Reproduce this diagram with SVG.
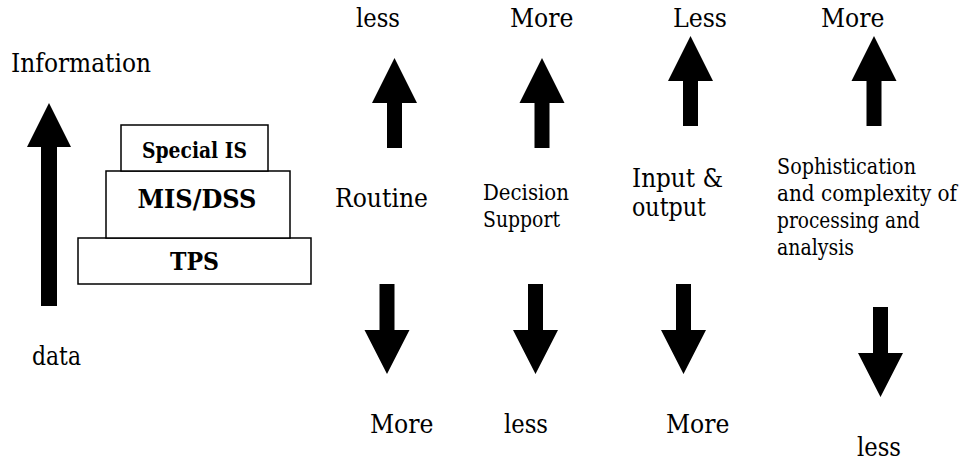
<svg xmlns="http://www.w3.org/2000/svg" xmlns:xlink="http://www.w3.org/1999/xlink" width="966" height="463" viewBox="0 0 966 463">
<style>
text{font-family:'DejaVu Serif Condensed','DejaVu Serif',serif;fill:#000}
.t{font-size:26.6px}
.s{font-size:21.8px}
.b{font-weight:bold;text-anchor:middle}
.box{fill:#fff;stroke:#000;stroke-width:1.5}
.arr{fill:#000}
</style>
<defs>
<path id="up" d="M0,0 L22.5,45 L7.5,45 L7.5,90 L-7.5,90 L-7.5,45 L-22.5,45 Z"/>
<path id="down" d="M-7.5,0 L7.5,0 L7.5,46 L22.5,46 L0,90 L-22.5,46 L-7.5,46 Z"/>
</defs>
<rect width="966" height="463" fill="#fff"/>
<g id="connectors" class="arr">
<path d="M49,103 L71,147 L57,147 L57,306 L41,306 L41,147 L27,147 Z"/>
<use xlink:href="#up" x="394.5" y="58"/>
<use xlink:href="#up" x="542" y="58"/>
<use xlink:href="#up" x="690.5" y="36"/>
<use xlink:href="#up" x="874" y="36"/>
<use xlink:href="#down" x="387" y="284"/>
<use xlink:href="#down" x="535.5" y="284"/>
<use xlink:href="#down" x="683.5" y="284"/>
<use xlink:href="#down" x="880.5" y="307"/>
</g>
<g id="tps">
<rect class="box" x="78" y="238" width="233" height="46"/>
<text class="b" x="194.5" y="270" font-size="24.2" textLength="49" lengthAdjust="spacingAndGlyphs">TPS</text>
</g>
<g id="mis-dss">
<rect class="box" x="106" y="171" width="184" height="67"/>
<text class="b" x="197" y="208" font-size="26.6" textLength="119" lengthAdjust="spacingAndGlyphs">MIS/DSS</text>
</g>
<g id="special-is">
<rect class="box" x="121" y="125" width="147" height="46"/>
<text class="b" x="194.5" y="158" font-size="21.8" textLength="105" lengthAdjust="spacingAndGlyphs">Special IS</text>
</g>
<g id="labels">
<text class="t" x="11" y="72" textLength="140" lengthAdjust="spacingAndGlyphs">Information</text>
<text class="t" x="32" y="365" textLength="49" lengthAdjust="spacingAndGlyphs">data</text>
<text class="t" x="356" y="27" textLength="44" lengthAdjust="spacingAndGlyphs">less</text>
<text class="t" x="510" y="27" textLength="63.5" lengthAdjust="spacingAndGlyphs">More</text>
<text class="t" x="673" y="27" textLength="54" lengthAdjust="spacingAndGlyphs">Less</text>
<text class="t" x="821" y="27" textLength="63.5" lengthAdjust="spacingAndGlyphs">More</text>
<text class="t" x="335" y="207" textLength="93" lengthAdjust="spacingAndGlyphs">Routine</text>
<text class="s" x="483" y="200" textLength="86" lengthAdjust="spacingAndGlyphs">Decision</text>
<text class="s" x="483" y="227" textLength="77" lengthAdjust="spacingAndGlyphs">Support</text>
<text class="t" x="632" y="187" textLength="91" lengthAdjust="spacingAndGlyphs">Input &amp;</text>
<text class="t" x="632" y="216" textLength="74" lengthAdjust="spacingAndGlyphs">output</text>
<text class="s" x="777" y="174" textLength="139" lengthAdjust="spacingAndGlyphs">Sophistication</text>
<text class="s" x="777" y="201" textLength="180" lengthAdjust="spacingAndGlyphs">and complexity of</text>
<text class="s" x="777" y="228" textLength="143" lengthAdjust="spacingAndGlyphs">processing and</text>
<text class="s" x="777" y="255" textLength="77" lengthAdjust="spacingAndGlyphs">analysis</text>
<text class="t" x="370" y="433" textLength="63.5" lengthAdjust="spacingAndGlyphs">More</text>
<text class="t" x="504" y="433" textLength="44" lengthAdjust="spacingAndGlyphs">less</text>
<text class="t" x="666" y="433" textLength="63.5" lengthAdjust="spacingAndGlyphs">More</text>
<text class="t" x="857" y="456" textLength="44" lengthAdjust="spacingAndGlyphs">less</text>
</g>
</svg>
